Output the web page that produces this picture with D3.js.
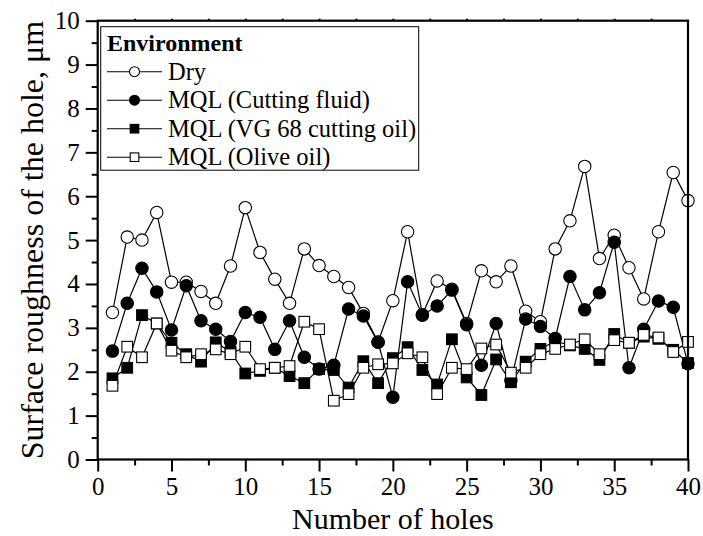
<!DOCTYPE html>
<html><head><meta charset="utf-8">
<script src="https://cdn.jsdelivr.net/npm/d3@7"></script>
<style>body{margin:0;background:#fff;} svg{display:block;}</style>
</head><body>
<svg id="c" width="703" height="536"></svg>
<script>
const holes = d3.range(1, 41);
const dry = [3.35,5.07,5.00,5.63,4.04,4.04,3.83,3.56,4.41,5.74,4.72,4.11,3.56,4.80,4.42,4.17,3.92,3.33,2.68,3.62,5.19,3.30,4.07,3.88,3.10,4.30,4.05,4.41,3.38,3.14,4.80,5.44,6.68,4.58,5.11,4.37,3.66,5.19,6.54,5.90];
const cuttingFluid = [2.47,3.56,4.36,3.82,2.95,3.96,3.16,2.97,2.69,3.35,3.24,2.51,3.16,2.33,2.06,2.15,3.43,3.27,2.67,1.42,4.05,3.29,3.50,3.86,3.07,2.15,3.10,1.80,3.20,3.03,2.76,4.17,3.41,3.80,4.95,2.09,2.97,3.61,3.47,2.18];
const vg68 = [1.85,2.09,3.29,3.10,2.66,2.40,2.23,2.67,2.45,1.96,2.02,2.09,1.90,1.74,2.06,2.04,1.64,2.24,1.74,2.31,2.56,2.04,1.71,2.74,1.87,1.47,2.28,1.76,2.23,2.52,2.70,2.60,2.52,2.27,2.86,2.66,2.80,2.75,2.50,2.20];
const olive = [1.68,2.57,2.33,3.10,2.48,2.33,2.40,2.51,2.40,2.57,2.06,2.09,2.13,3.14,2.97,1.34,1.49,2.09,2.17,2.19,2.42,2.33,1.49,2.09,2.06,2.53,2.62,1.98,2.09,2.40,2.52,2.62,2.74,2.40,2.72,2.66,2.84,2.78,2.45,2.68];
const seriesNames = ["Dry","MQL (Cutting fluid)","MQL (VG 68 cutting oil)","MQL (Olive oil)"];
const xTicks = [0,5,10,15,20,25,30,35,40];
const yTicks = [0,1,2,3,4,5,6,7,8,9,10];

const series = [
  {name: seriesNames[0], values: dry, shape: "circle", fill: "#fff"},
  {name: seriesNames[1], values: cuttingFluid, shape: "circle", fill: "#000"},
  {name: seriesNames[2], values: vg68, shape: "square", fill: "#000"},
  {name: seriesNames[3], values: olive, shape: "square", fill: "#fff"}
];

const m = {left: 97.7, right: 688, top: 20.7, bottom: 459.5};
const svg = d3.select("#c");
const x = d3.scaleLinear().domain([0, 40]).range([m.left, m.right]);
const y = d3.scaleLinear().domain([0, 10]).range([m.bottom, m.top]);
const font = "'Liberation Serif','Times New Roman',serif";

const line = d3.line().x((d, i) => x(holes[i])).y(d => y(d));
const plot = svg.append("g");
series.forEach(s => {
  plot.append("path").attr("d", line(s.values)).attr("fill", "none").attr("stroke", "#000").attr("stroke-width", 1.2);
});
function marker(g, s, cx, cy, r) {
  if (s.shape === "circle") {
    g.append("circle").attr("cx", cx).attr("cy", cy).attr("r", r).attr("fill", s.fill).attr("stroke", "#000").attr("stroke-width", 1.1);
  } else {
    const h = r * 0.86;
    g.append("rect").attr("x", cx - h).attr("y", cy - h).attr("width", 2*h).attr("height", 2*h).attr("fill", s.fill).attr("stroke", "#000").attr("stroke-width", 1.1);
  }
}
series.forEach(s => {
  const g = plot.append("g");
  s.values.forEach((v, i) => marker(g, s, x(holes[i]), y(v), 6.2));
});

const axB = svg.append("g").attr("transform", `translate(0,${m.bottom})`)
  .call(d3.axisBottom(x).tickValues(xTicks).tickSize(12).tickPadding(6));
const axBm = svg.append("g").attr("transform", `translate(0,${m.bottom})`)
  .call(d3.axisBottom(x).tickValues(d3.range(2.5, 40, 5)).tickSize(6).tickFormat(""));
const axL = svg.append("g").attr("transform", `translate(${m.left},0)`)
  .call(d3.axisLeft(y).tickValues(yTicks).tickSize(12).tickPadding(6));
const axLm = svg.append("g").attr("transform", `translate(${m.left},0)`)
  .call(d3.axisLeft(y).tickValues(d3.range(0.5, 10, 1)).tickSize(6).tickFormat(""));
const axT = svg.append("g").attr("transform", `translate(0,${m.top})`)
  .call(d3.axisTop(x).tickValues(d3.range(2.5, 40, 2.5)).tickSize(2).tickFormat(""));
[axB, axBm, axL, axLm, axT].forEach(a => {
  a.attr("font-family", font);
  a.select(".domain").remove();
  a.selectAll("line").attr("stroke", "#000").attr("stroke-width", 2);
  a.selectAll("text").attr("font-family", font).attr("font-size", 25).attr("fill", "#000");
});
svg.append("rect").attr("x", m.left).attr("y", m.top).attr("width", m.right - m.left).attr("height", m.bottom - m.top)
  .attr("fill", "none").attr("stroke", "#000").attr("stroke-width", 2.2);

svg.append("text").attr("x", (m.left + m.right) / 2).attr("y", 529).attr("text-anchor", "middle")
  .attr("font-family", font).attr("font-size", 30).text("Number of holes");
svg.append("text").attr("transform", `translate(43,${(m.top + m.bottom) / 2}) rotate(-90)`).attr("text-anchor", "middle")
  .attr("font-family", font).attr("font-size", 32).text("Surface roughness of the hole, μm");

const lg = svg.append("g");
lg.append("rect").attr("x", 100.7).attr("y", 26.7).attr("width", 318).attr("height", 143.5)
  .attr("fill", "#fff").attr("stroke", "#000").attr("stroke-width", 1);
lg.append("text").attr("x", 107).attr("y", 51).attr("font-family", font).attr("font-size", 24).attr("font-weight", "bold").text("Environment");
series.forEach((s, i) => {
  const cy = 71.7 + i * 28.5;
  lg.append("line").attr("x1", 107).attr("x2", 162).attr("y1", cy).attr("y2", cy).attr("stroke", "#000").attr("stroke-width", 1.1);
  marker(lg, s, 134.5, cy, 5);
  lg.append("text").attr("x", 168).attr("y", cy + 8).attr("font-family", font).attr("font-size", 24.5).text(s.name);
});
</script>
</body></html>
